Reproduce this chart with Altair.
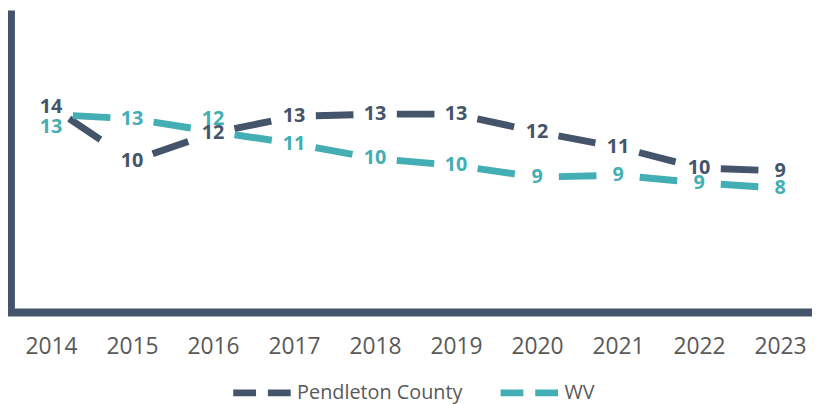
import altair as alt
import pandas as pd

years = [2014, 2015, 2016, 2017, 2018, 2019, 2020, 2021, 2022, 2023]
pendleton = [13.6, 10.0, 11.85, 12.95, 13.1, 13.1, 11.93, 10.92, 9.54, 9.34]
wv = [13.08, 12.79, 11.95, 11.15, 10.16, 9.7, 8.93, 9.05, 8.55, 8.2]
series_names = ["Pendleton County", "WV"]
colors = ["#44546A", "#43AEB3"]

# label placement: when the two series nearly coincide, move the WV label aside
close_gap = 0.8
label_shift = 0.82

pts = []
for i, yr in enumerate(years):
    p, w = pendleton[i], wv[i]
    p_lab, w_lab = p, w
    if abs(p - w) < close_gap:
        w_lab = w + label_shift if w >= p else w - label_shift
    pts.append({"year": yr, "value": p, "label_y": p_lab, "series": series_names[0]})
    pts.append({"year": yr, "value": w, "label_y": w_lab, "series": series_names[1]})
pts = pd.DataFrame(pts)

segs = []
for name, vals in zip(series_names, [pendleton, wv]):
    for k in range(len(years) - 1):
        for j in (k, k + 1):
            segs.append({"year": years[j], "value": vals[j], "series": name,
                         "seg": f"{name}-{k}"})
segs = pd.DataFrame(segs)

xscale = alt.Scale(domain=[2013.505, 2023.358], nice=False, zero=False)
yscale = alt.Scale(domain=[0, 20], nice=False, zero=True)
cscale = alt.Scale(domain=series_names, range=colors)

xaxis = alt.Axis(values=years, format="d", ticks=False, grid=False, title=None,
                 labelFont="Open Sans", labelFontSize=23, labelColor="#595959",
                 labelPadding=24, labelFlush=False, labelOverlap=False,
                 domainColor="#44546A", domainWidth=8, domainCap="square")
yaxis = alt.Axis(labels=False, ticks=False, grid=False, title=None,
                 domainColor="#44546A", domainWidth=7)

legend = alt.Legend(title=None, orient="none", legendX=221, legendY=354,
                    direction="horizontal", symbolType="stroke", symbolSize=3364,
                    symbolStrokeWidth=7, symbolDash=[23, 12],
                    labelFont="Open Sans", labelFontSize=20, labelColor="#595959",
                    labelOffset=3, labelLimit=400, columnPadding=24)

x_enc = alt.X("year:Q", scale=xscale, axis=xaxis)

lines = alt.Chart(segs).mark_line(strokeWidth=7, strokeDash=[0, 22, 38, 1000],
                                  strokeCap="butt").encode(
    x=x_enc,
    y=alt.Y("value:Q", scale=yscale, axis=yaxis),
    color=alt.Color("series:N", scale=cscale, legend=legend),
    detail="seg:N",
    order="year:Q",
)

boxes = alt.Chart(pts).mark_point(
    shape="M-1.4,-0.8L1.4,-0.8L1.4,0.8L-1.4,0.8Z", size=400, filled=True,
    color="white", opacity=1, strokeWidth=0).encode(
    x=x_enc,
    y=alt.Y("label_y:Q", scale=yscale),
)

texts = alt.Chart(pts).mark_text(font="Open Sans", fontSize=20, fontWeight="bold",
                                 baseline="middle", align="center").encode(
    x=x_enc,
    y=alt.Y("label_y:Q", scale=yscale),
    text=alt.Text("value:Q", format=".0f"),
    color=alt.Color("series:N", scale=cscale, legend=None),
)

chart = alt.layer(lines, boxes, texts).properties(
    width=806, height=305,
    padding={"left": 3, "top": 0, "right": 3, "bottom": 91},
    autosize=alt.AutoSizeParams(type="none"),
    background="white",
).configure_view(stroke=None)

chart.save("out.html", embed_options={"renderer": "svg", "actions": False})
